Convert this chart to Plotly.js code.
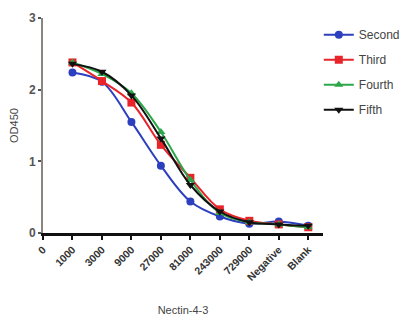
<!DOCTYPE html>
<html><head><meta charset="utf-8">
<script src="https://cdn.plot.ly/plotly-3.0.1.min.js"></script>
<style>html,body{margin:0;padding:0;background:#fff;}#c{width:409px;height:331px;}</style>
</head><body><div id="c"></div>
<script>
const categories = ["0","1000","3000","9000","27000","81000","243000","729000","Negative","Blank"];
const dataCats = ["1000","3000","9000","27000","81000","243000","729000","Negative","Blank"];
const second = [2.24, 2.11, 1.55, 0.94, 0.44, 0.23, 0.13, 0.16, 0.10];
const third  = [2.38, 2.12, 1.82, 1.23, 0.77, 0.33, 0.17, 0.12, 0.08];
const fourth = [2.38, 2.22, 1.95, 1.41, 0.74, 0.28, 0.15, 0.12, 0.08];
const fifth  = [2.36, 2.25, 1.92, 1.32, 0.67, 0.30, 0.15, 0.12, 0.10];
const names = ["Second","Third","Fourth","Fifth"];

const xs = dataCats.map(c => categories.indexOf(c));
const series = [second, third, fourth, fifth];
const colors = ["#2b3fbf","#e8242a","#2ca64a","#111111"];
const symbols = ["circle","square","triangle-up","triangle-down"];
const traces = series.map((s,i)=>({
  x: xs, y: s, name: names[i], type:"scatter", mode:"lines+markers",
  line:{color:colors[i], width:2, shape:"spline", smoothing:1},
  marker:{color:colors[i], symbol:symbols[i], size:8},
  legendgroup: names[i]
}));
const layout = {
  width:409, height:331,
  margin:{l:43, r:86, t:18, b:98, autoexpand:false},
  paper_bgcolor:"#fff", plot_bgcolor:"#fff",
  font:{family:"Liberation Sans, Arial, sans-serif", color:"#444"},
  showlegend:true,
  legend:{x:0.985, xanchor:"left", y:0.99, yanchor:"top", font:{size:12, color:"#444"}, tracegroupgap:6, bgcolor:"rgba(0,0,0,0)"},
  xaxis:{range:[0,9.5], tickvals:categories.map((c,i)=>i), ticktext:categories, tickangle:-45,
    tickfont:{size:10.5, color:"#333", family:"Liberation Sans, Arial, sans-serif", weight:"bold"},
    showline:true, linecolor:"#111", linewidth:2.5, ticks:"outside", ticklen:4, tickwidth:2, tickcolor:"#111",
    showgrid:false, zeroline:false,
    title:{text:"Nectin-4-3", font:{size:11, color:"#444"}, standoff:25}},
  yaxis:{range:[0,3], tickvals:[0,1,2,3], ticktext:["0","1","2","3"],
    tickfont:{size:12, color:"#555", weight:"bold"},
    showline:true, linecolor:"#8a8580", linewidth:2, ticks:"outside", ticklen:3, tickwidth:2, tickcolor:"#555",
    showgrid:false, zeroline:false,
    title:{text:"OD450", font:{size:11, color:"#444"}, standoff:8}}
};
Plotly.newPlot("c", traces, layout, {displayModeBar:false, staticPlot:true});
</script></body></html>
